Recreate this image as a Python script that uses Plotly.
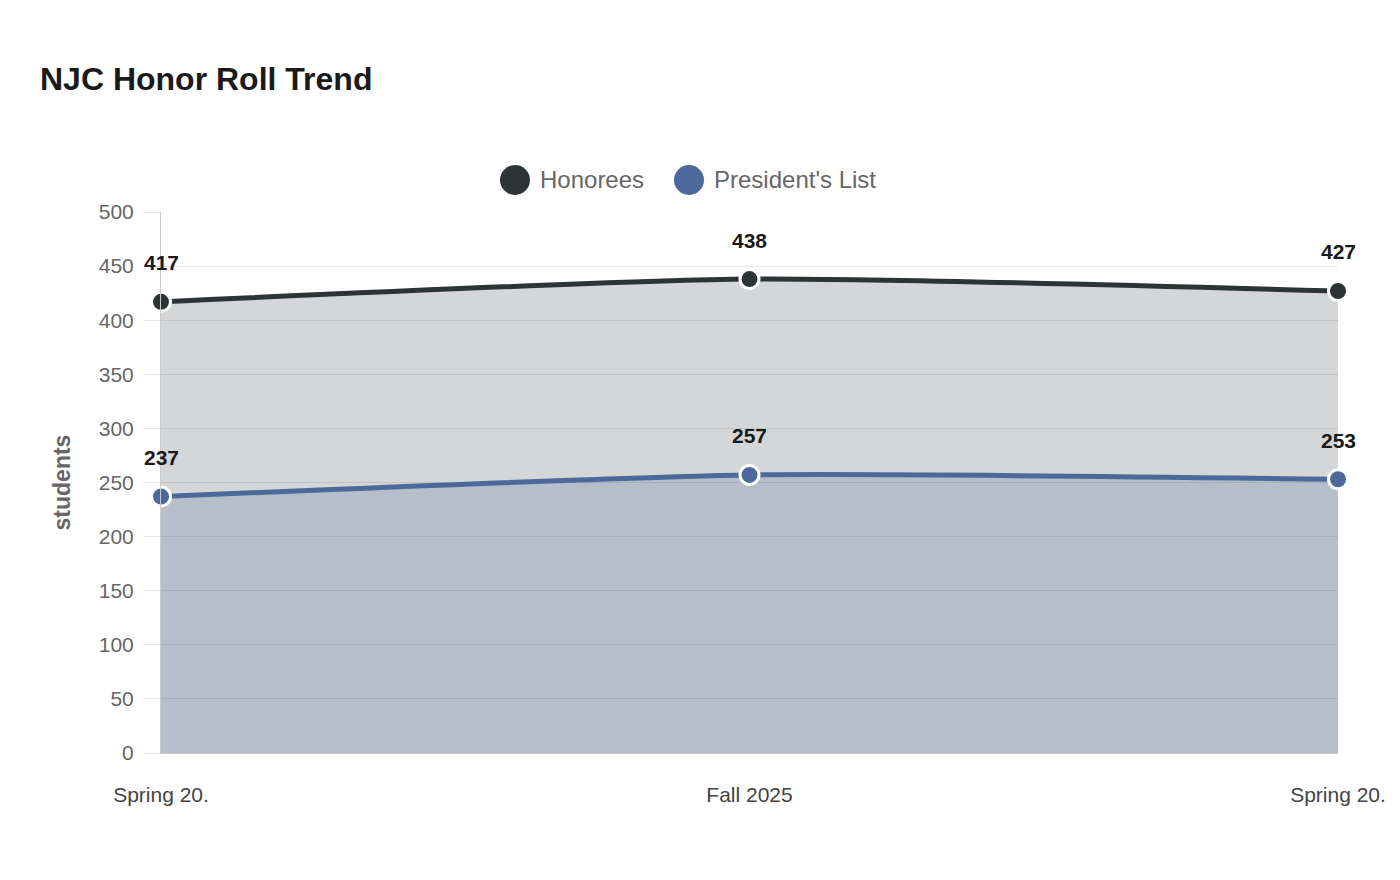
import plotly.graph_objects as go

categories = ["Spring 20.", "Fall 2025", "Spring 20."]
honorees = [417, 438, 427]
presidents_list = [237, 257, 253]
series_names = ["Honorees", "President's List"]
y_ticks = [0, 50, 100, 150, 200, 250, 300, 350, 400, 450, 500]

c_hon = "#2d3436"
c_pres = "#4b6a9b"
font = "Liberation Sans, Arial, sans-serif"

x_idx = list(range(len(categories)))

fig = go.Figure()
for name, vals, col, fill in [
    (series_names[0], honorees, c_hon, "rgba(45,52,54,0.2)"),
    (series_names[1], presidents_list, c_pres, "rgba(75,106,155,0.22)"),
]:
    fig.add_trace(go.Scatter(
        x=x_idx, y=vals, name=name, mode="lines+markers",
        line=dict(color=col, width=5, shape="spline", smoothing=0.6),
        marker=dict(size=19, color=col, line=dict(color="white", width=3)),
        fill="tozeroy", fillcolor=fill, showlegend=False, cliponaxis=False,
    ))
    for xi, v in zip(x_idx, vals):
        fig.add_annotation(x=xi, y=v, text=f"<b>{v}</b>", showarrow=False,
                           yshift=39, font=dict(family=font, size=21, color="#1a1a1a"))

# custom legend (large circles)
L, R, T, B = 161, 62, 212, 127
W, H = 1400, 880
pw, ph = W - L - R, H - T - B
def px(x):
    return (x - L) / pw
def py(y):
    return (H - B - y) / ph
for cx, tx, name, col in [(515, 539, series_names[0], c_hon), (689, 713, series_names[1], c_pres)]:
    fig.add_shape(type="circle", xref="paper", yref="paper", xsizemode="pixel", ysizemode="pixel",
                  xanchor=px(cx), yanchor=py(180), x0=-15, x1=15, y0=-15, y1=15,
                  fillcolor=col, line=dict(width=0))
    fig.add_annotation(xref="paper", yref="paper", x=px(tx) - 0.001, y=py(180), xanchor="left", yanchor="middle",
                       text=name, showarrow=False, font=dict(family=font, size=24, color="#666666"))

fig.update_layout(
    width=W, height=H,
    margin=dict(l=L, r=R, t=T, b=B, autoexpand=False),
    paper_bgcolor="white", plot_bgcolor="white",
    font=dict(family=font),
    title=dict(text="<b>NJC Honor Roll Trend</b>", xref="container", yref="container",
               x=40 / W, xanchor="left", y=1 - 79 / H, yanchor="middle",
               font=dict(family=font, size=32, color="#1a1a1a")),
    showlegend=False,
    hovermode=False,
)
fig.update_xaxes(
    range=[0, len(categories) - 1], tickvals=x_idx, ticktext=categories,
    showgrid=False, showline=True, linecolor="#c8c8c8", linewidth=1,
    ticks="", ticklabelstandoff=23, zeroline=False,
    tickfont=dict(family=font, size=21, color="#444444"),
)
fig.update_yaxes(
    range=[0, 500], tickvals=y_ticks, showgrid=True, gridcolor="#e6e6e6", gridwidth=1,
    showline=True, linecolor="#cccccc", linewidth=1,
    ticks="outside", ticklen=16, tickcolor="#e6e6e6", ticklabelstandoff=6,
    zeroline=False,
    tickfont=dict(family=font, size=21, color="#666666"),
    title=dict(text="<b>students</b>", font=dict(family=font, size=23, color="#666666"), standoff=21),
)

fig.write_html("out.html")
